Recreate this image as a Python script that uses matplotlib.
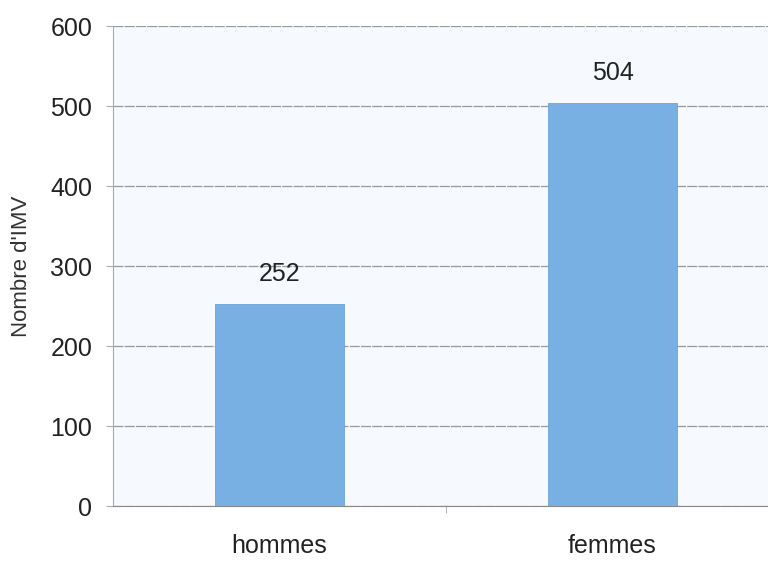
import matplotlib.pyplot as plt

categories = ['hommes', 'femmes']
values = [252, 504]
yticks = [0, 100, 200, 300, 400, 500, 600]

plt.rcParams['font.family'] = ['Liberation Sans', 'DejaVu Sans']

fig = plt.figure(figsize=(7.68, 5.61), dpi=100)
# plot area runs off the right edge like the scanned original
ax = fig.add_axes([113 / 768, 1 - 506 / 561, 666 / 768, 480 / 561])
ax.set_facecolor('#f6f9fd')

x = range(len(categories))
ax.bar(x, values, width=0.39, color='#78b0e4', edgecolor='#6aa3d8', linewidth=0.6, zorder=3)

for xi, v in zip(x, values):
    ax.annotate(str(v), (xi, v), xytext=(0, 13), textcoords='offset points',
                ha='center', va='bottom', fontsize=18, color='#222222')

ax.set_xlim(-0.5, 1.5)
ax.set_ylim(0, 600)
ax.set_yticks(yticks)
ax.set_yticklabels([str(t) for t in yticks], fontsize=18, color='#222222')
ax.set_xticks(list(x))
ax.set_xticklabels(categories, fontsize=18, color='#222222')
ax.set_xticks([0.5], minor=True)
ax.tick_params(axis='x', which='major', length=0, pad=20)
ax.tick_params(axis='x', which='minor', length=5, color='#aaaaaa')
ax.tick_params(axis='y', length=5, color='#aaaaaa', pad=10)

ax.yaxis.grid(True, color='#9a9a9a', linewidth=0.9, linestyle=(0, (8, 1)), zorder=0)
for side in ['top', 'right']:
    ax.spines[side].set_visible(False)
ax.spines['left'].set_color('#aaaaaa')
ax.spines['bottom'].set_color('#888888')

ax.set_ylabel("Nombre d'IMV", fontsize=16, color='#333333')
ax.yaxis.set_label_coords(-0.122, 0.5)

fig.savefig('out.png', dpi=100)
